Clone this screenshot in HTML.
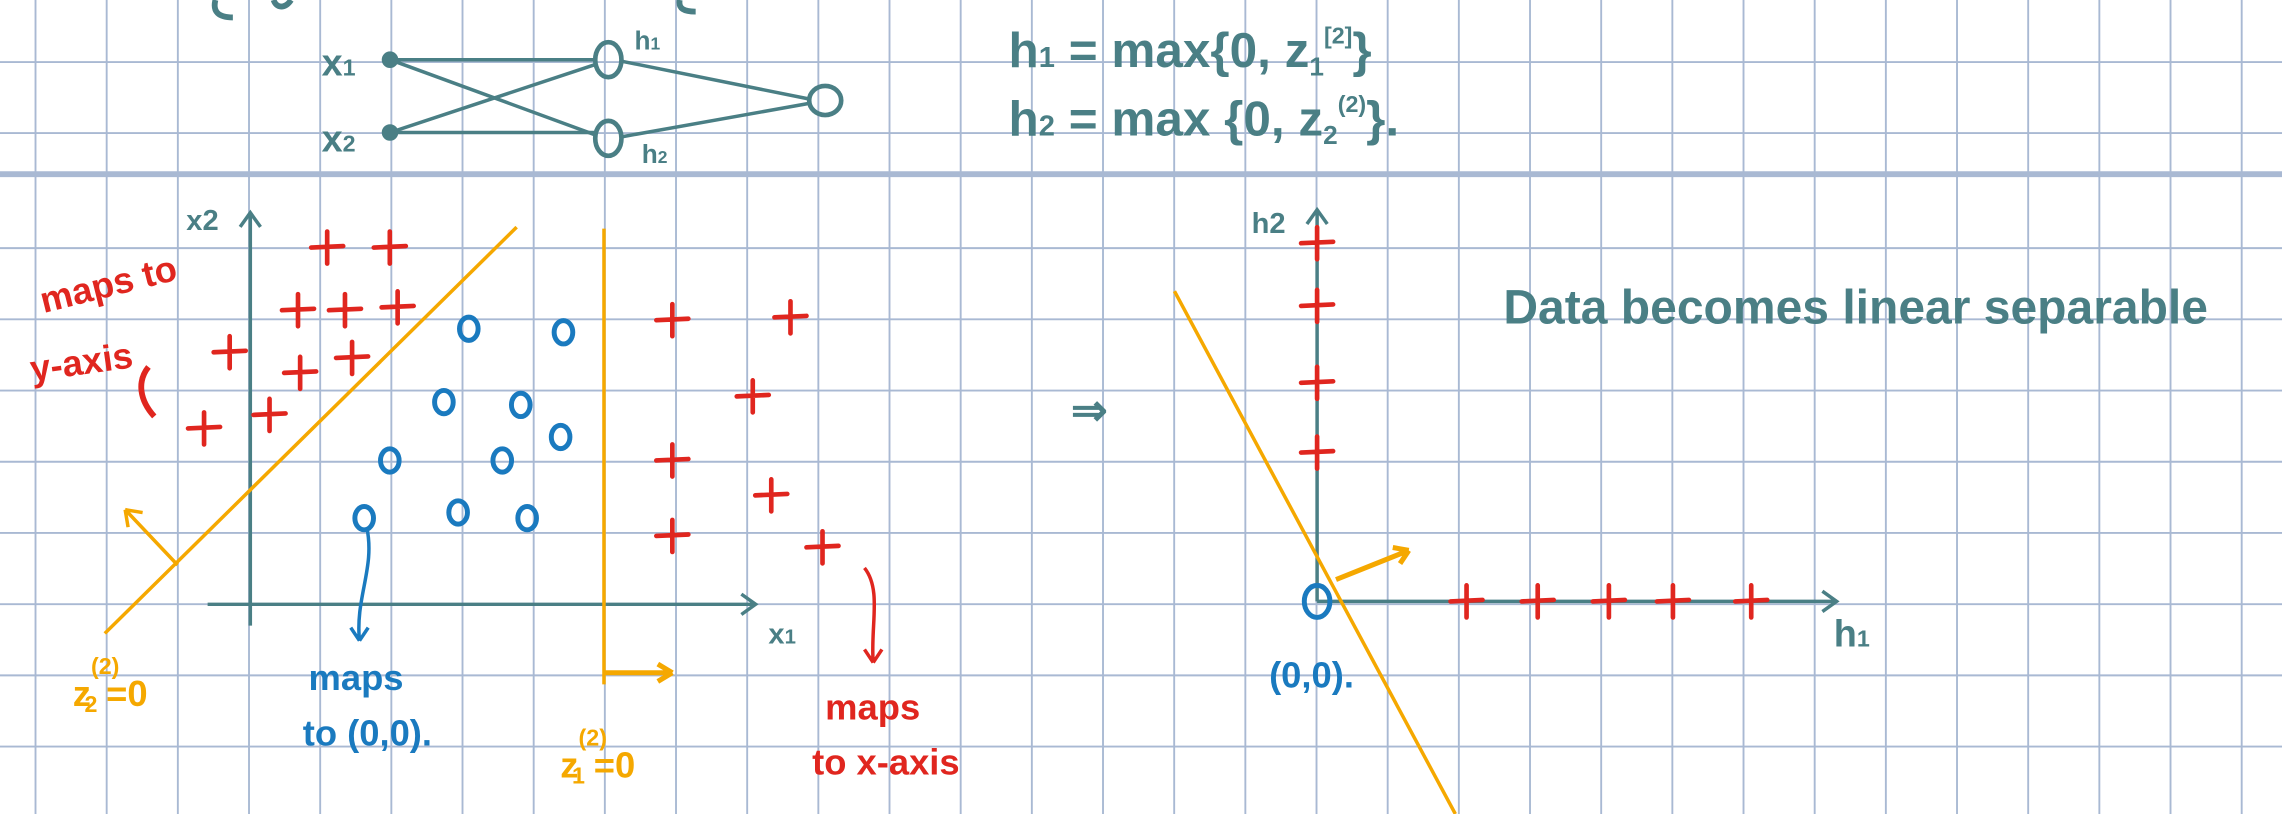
<!DOCTYPE html>
<html><head><meta charset="utf-8"><style>
html,body{margin:0;padding:0;background:#fff;}
svg{display:block;}
text{font-family:"Liberation Sans",sans-serif;font-weight:bold;}
</style></head><body>
<svg id="chart" width="2282" height="814" viewBox="0 0 1568 559" preserveAspectRatio="none" xmlns="http://www.w3.org/2000/svg">
<rect width="1568" height="559" fill="#fff"/>
<g id="grid" stroke="#a9b9d3" stroke-width="1.3"></g>
<line x1="0" y1="119.6" x2="1568" y2="119.6" stroke="#a9b9d3" stroke-width="4"/>
<path d="M148 0 C146 8 150 12 160 12 M188 0 C190 6 196 6 200 0 M467 0 C466 6 470 8 478 8" stroke="#4a7f85" stroke-width="4" fill="none"/>

<g stroke="#4a7f85" stroke-width="2.4" fill="none">
<line x1="268" y1="41" x2="410" y2="41"/><line x1="268" y1="41" x2="410" y2="93"/>
<line x1="268" y1="91" x2="410" y2="44"/><line x1="268" y1="91" x2="410" y2="91"/>
<line x1="427" y1="42" x2="556" y2="68"/><line x1="427" y1="94" x2="556" y2="71"/>
<ellipse cx="418" cy="41" rx="9" ry="12" stroke-width="3.2"/>
<ellipse cx="418" cy="95" rx="9" ry="12" stroke-width="3.2"/>
<ellipse cx="567" cy="69" rx="11" ry="10" stroke-width="3.2"/>
<circle cx="268" cy="41" r="4.5" fill="#4a7f85"/><circle cx="268" cy="91" r="4.5" fill="#4a7f85"/>
</g>
<g fill="#4a7f85" font-size="26">
<text x="221" y="52">x<tspan font-size="16">1</tspan></text>
<text x="221" y="104">x<tspan font-size="16">2</tspan></text>
<text x="436" y="34" font-size="18">h<tspan font-size="12">1</tspan></text>
<text x="441" y="112" font-size="18">h<tspan font-size="12">2</tspan></text>
<text x="693" y="46" font-size="34">h<tspan font-size="20">1</tspan> = max{0, z<tspan font-size="18" dy="6">1</tspan><tspan font-size="16" dy="-22">[2]</tspan><tspan dy="16">}</tspan></text>
<text x="693" y="93" font-size="34">h<tspan font-size="20">2</tspan> = max {0, z<tspan font-size="18" dy="6">2</tspan><tspan font-size="16" dy="-22">(2)</tspan><tspan dy="16">}.</tspan></text>
<text x="1033" y="222" font-size="33">Data becomes linear separable</text>
<text x="736" y="292" font-size="30">⇒</text>
<text x="128" y="158" font-size="20">x2</text>
<text x="528" y="442" font-size="20">x<tspan font-size="14">1</tspan></text>
<text x="860" y="160" font-size="20">h2</text>
<text x="1260" y="444" font-size="26">h<tspan font-size="16">1</tspan></text>
</g>

<g id="left"></g>
<g id="right"></g>

<g stroke="#f5a800" stroke-width="2.4" fill="none">
<line x1="72" y1="435" x2="355" y2="156"/>
<path d="M122 388 L86 350 M86 350 l2 12 M86 350 l12 2"/>
<line x1="415" y1="157" x2="415" y2="470"/>
<path d="M415 462 L462 462 M462 462 l-10 -6 M462 462 l-10 6" stroke-width="3.5"/>
<line x1="807" y1="200" x2="1000" y2="559"/>
<path d="M918 398 L968 378 M968 378 l-11 -2 M968 378 l-6 9" stroke-width="3.5"/>
</g>
<g fill="none" stroke-width="2.4">
<path d="M252 362 C258 390 244 410 247 440 M247 440 l-6 -9 M247 440 l6 -9" stroke="#1a7abf"/>
<path d="M594 390 C606 405 598 430 600 455 M600 455 l-6 -9 M600 455 l6 -9" stroke="#e0261f"/>
<path d="M102 252 C94 262 96 275 106 286" stroke="#e0261f" stroke-width="4"/>
</g>
<g font-size="25">
<text fill="#e0261f" transform="rotate(-14 30 215)" x="30" y="215">maps to</text>
<text fill="#e0261f" transform="rotate(-8 22 262)" x="22" y="262">y-axis</text>
<text fill="#f5a800" x="50" y="485">z<tspan font-size="16" dy="-22">(2)</tspan><tspan font-size="16" dx="-24" dy="26">2</tspan><tspan dy="-4" dx="6">=0</tspan></text>
<text fill="#1a7abf" x="212" y="474">maps</text>
<text fill="#1a7abf" x="208" y="512">to (0,0).</text>
<text fill="#f5a800" x="385" y="534">z<tspan font-size="16" dy="-22">(2)</tspan><tspan font-size="16" dx="-24" dy="26">1</tspan><tspan dy="-4" dx="6">=0</tspan></text>
<text fill="#e0261f" x="567" y="494">maps</text>
<text fill="#e0261f" x="558" y="532">to x-axis</text>
<text fill="#1a7abf" x="872" y="472">(0,0).</text>
</g>

<script>
// left plot data (grid units)
const plusX = [1.08,1.96,0.67,1.33,2.07,-0.29,0.70,1.43,-0.65,0.27,5.93,7.59,7.06,5.93,7.32,5.93,8.04];
const plusY = [5.01,5.01,4.13,4.13,4.17,3.54,3.25,3.46,2.47,2.66,3.99,4.03,2.92,2.02,1.53,0.96,0.80];
const circX = [3.07,4.40,2.72,3.80,4.36,1.96,3.54,1.60,2.92,3.89];
const circY = [3.87,3.82,2.84,2.80,2.35,2.02,2.02,1.21,1.29,1.21];
// right plot data
const h2Plus = [5.03,4.15,3.07,2.09];
const h1Plus = [2.1,3.1,4.1,5.0,6.1];
const originPts = [0];

const U = 48.9;
const NS = 'http://www.w3.org/2000/svg';
function mk(tag, attrs, parent){const e=document.createElementNS(NS,tag);for(const k in attrs)e.setAttribute(k,attrs[k]);parent.appendChild(e);return e;}
const lx = v => 172 + v*U, ly = v => 415 - v*U;
const rx = v => 905 + v*U, ry = v => 413 - v*U;

const grid = document.getElementById('grid');
for(let x=24.4;x<1568;x+=U){const l=mk('line',{x1:x,y1:0,x2:x,y2:559},grid);

}
[-6.3,42.6,91.4].forEach(y=>{const l=mk('line',{x1:0,y1:y,x2:1568,y2:y},grid);

});
for(let y=170.4;y<559;y+=U){const l=mk('line',{x1:0,y1:y,x2:1568,y2:y},grid);

}

function plus(g,cx,cy){const p=mk('path',{d:`M${cx-11} ${cy} L${cx+11} ${cy-1} M${cx} ${cy-11} L${cx} ${cy+11}`,stroke:'#e0261f','stroke-width':3.2,fill:'none','stroke-linecap':'round'},g);

}
function circ(g,cx,cy,r){const c=mk('ellipse',{cx:cx,cy:cy,rx:r*0.8,ry:r,stroke:'#1a7abf','stroke-width':3.4,fill:'none'},g);

}
function axis(g,d,name){const a=mk('path',{d:d,stroke:'#4a7f85','stroke-width':2.4,fill:'none'},g);

}

const L=document.getElementById('left');
axis(L,`M${lx(0)} ${ly(-0.3)} L${lx(0)} ${ly(5.5)} M${lx(0)-7} ${ly(5.3)} L${lx(0)} ${ly(5.5)} L${lx(0)+7} ${ly(5.3)}`,'x2-axis');
axis(L,`M${lx(-0.6)} ${ly(0)} L${lx(7.1)} ${ly(0)} M${lx(6.9)} ${ly(0)-7} L${lx(7.1)} ${ly(0)} L${lx(6.9)} ${ly(0)+7}`,'x1-axis');
plusX.forEach((v,i)=>plus(L,lx(v),ly(plusY[i])));
circX.forEach((v,i)=>circ(L,lx(v),ly(circY[i]),8));

const R=document.getElementById('right');
axis(R,`M${rx(0)} ${ry(0)} L${rx(0)} ${ry(5.5)} M${rx(0)-7} ${ry(5.3)} L${rx(0)} ${ry(5.5)} L${rx(0)+7} ${ry(5.3)}`,'h2-axis');
axis(R,`M${rx(0)} ${ry(0)} L${rx(7.3)} ${ry(0)} M${rx(7.1)} ${ry(0)-7} L${rx(7.3)} ${ry(0)} L${rx(7.1)} ${ry(0)+7}`,'h1-axis');
h2Plus.forEach(v=>plus(R,rx(0),ry(v)));
h1Plus.forEach(v=>plus(R,rx(v),ry(0)));
originPts.forEach(v=>circ(R,rx(v),ry(v),11));
</script>
</svg>
</body></html>
